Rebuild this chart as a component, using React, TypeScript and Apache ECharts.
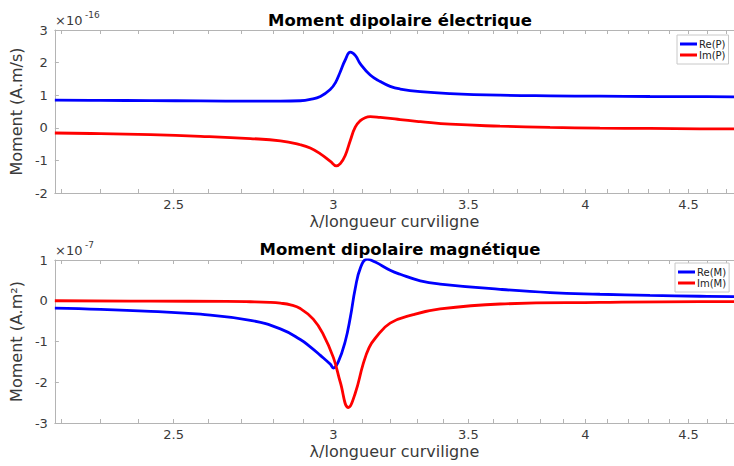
import React, { useEffect, useRef } from "react";
import * as echarts from "echarts";

// λ / longueur curviligne sample points and values (top: ×1e-16 A.m/s, bottom: ×1e-7 A.m²)
const lambdaReP = [2.183, 2.3, 2.435, 2.578, 2.729, 2.824, 2.889, 2.922, 2.956, 2.99, 3.007, 3.024, 3.041, 3.059, 3.076, 3.094, 3.129, 3.165, 3.201, 3.238, 3.313, 3.428, 3.629, 3.842, 4.067, 4.306, 4.559, 4.74];
const reP = [0.85, 0.84, 0.835, 0.825, 0.82, 0.82, 0.83, 0.87, 0.96, 1.18, 1.38, 1.72, 2.08, 2.32, 2.22, 1.96, 1.62, 1.42, 1.27, 1.19, 1.11, 1.05, 1.0, 0.98, 0.97, 0.96, 0.955, 0.95];

const lambdaImP = [2.183, 2.3, 2.435, 2.578, 2.729, 2.824, 2.889, 2.922, 2.956, 2.99, 3.01, 3.024, 3.041, 3.059, 3.076, 3.094, 3.111, 3.129, 3.165, 3.201, 3.238, 3.313, 3.428, 3.629, 3.842, 4.067, 4.306, 4.559, 4.74];
const imP = [-0.16, -0.18, -0.21, -0.26, -0.33, -0.4, -0.52, -0.62, -0.8, -1.03, -1.17, -1.1, -0.85, -0.38, 0.02, 0.22, 0.31, 0.34, 0.32, 0.29, 0.25, 0.19, 0.11, 0.05, 0.01, -0.01, -0.02, -0.03, -0.03];

const lambdaReM = [2.183, 2.3, 2.435, 2.578, 2.729, 2.824, 2.889, 2.922, 2.956, 2.99, 3.0, 3.017, 3.041, 3.059, 3.076, 3.094, 3.118, 3.147, 3.201, 3.238, 3.313, 3.389, 3.629, 3.842, 4.067, 4.306, 4.559, 4.74];
const reM = [-0.18, -0.21, -0.26, -0.33, -0.48, -0.69, -0.95, -1.13, -1.34, -1.56, -1.65, -1.5, -1.0, -0.4, 0.3, 0.8, 1.02, 0.95, 0.75, 0.65, 0.49, 0.41, 0.28, 0.2, 0.16, 0.13, 0.11, 0.1];

const lambdaImM = [2.183, 2.435, 2.656, 2.729, 2.79, 2.824, 2.857, 2.889, 2.932, 2.966, 3.0, 3.024, 3.052, 3.076, 3.104, 3.125, 3.147, 3.201, 3.287, 3.389, 3.629, 4.067, 4.559, 4.74];
const imM = [0.0, -0.01, -0.015, -0.025, -0.04, -0.06, -0.1, -0.19, -0.45, -0.83, -1.39, -2.0, -2.62, -2.27, -1.55, -1.15, -0.92, -0.55, -0.34, -0.2, -0.08, -0.04, -0.02, -0.02];

const tickLambdas = [2.2, 2.3, 2.4, 2.5, 2.6, 2.7, 2.8, 2.9, 3.0, 3.1, 3.2, 3.3, 3.4, 3.5, 3.6, 3.7, 3.8, 3.9, 4.0, 4.1, 4.2, 4.3, 4.4, 4.5, 4.6, 4.7];
const labelLambdas = [2.5, 3, 3.5, 4, 4.5];

const FONT = "DejaVu Sans";
const AXIS_COLOR = "#b4b4b4";
const LABEL_COLOR = "#3a3a3a";

const toPts = (xs: number[], ys: number[]) => xs.map((l, i) => [Math.log(l), ys[i]]);

export default function App() {
  const ref = useRef<HTMLDivElement>(null);
  useEffect(() => {
    if (!ref.current) return;
    const chart = echarts.init(ref.current, undefined, { renderer: "svg" });
    const xmin = Math.log(2.183);
    const xmax = Math.log(4.74);
    const tickVals = tickLambdas.map(Math.log);
    const labelVals = labelLambdas.map(Math.log);
    const fmt = (v: number) => String(Math.round(Math.exp(v) * 10) / 10);

    const bottomX = (gridIndex: number) => ({
      type: "value",
      gridIndex,
      min: xmin,
      max: xmax,
      position: "bottom",
      axisLine: { show: true, onZero: false, lineStyle: { color: AXIS_COLOR, width: 1 } },
      axisTick: { show: true, inside: true, length: 4, customValues: tickVals, lineStyle: { color: AXIS_COLOR } },
      axisLabel: {
        show: true,
        customValues: labelVals,
        formatter: fmt,
        color: LABEL_COLOR,
        fontFamily: FONT,
        fontSize: 13,
        margin: 5,
      },
      splitLine: { show: false },
      name: "λ/longueur curviligne",
      nameLocation: "middle",
      nameGap: 20,
      nameTextStyle: { color: LABEL_COLOR, fontFamily: FONT, fontSize: 16 },
    });
    const topX = (gridIndex: number) => ({
      type: "value",
      gridIndex,
      min: xmin,
      max: xmax,
      position: "top",
      axisLine: { show: true, onZero: false, lineStyle: { color: AXIS_COLOR, width: 1 } },
      axisTick: { show: true, inside: true, length: 4, customValues: tickVals, lineStyle: { color: AXIS_COLOR } },
      axisLabel: { show: false },
      splitLine: { show: false },
    });
    const yAx = (gridIndex: number, min: number, max: number, name: string) => ({
      type: "value",
      gridIndex,
      min,
      max,
      interval: 1,
      axisLine: { show: true, onZero: false, lineStyle: { color: AXIS_COLOR, width: 1 } },
      axisTick: { show: true, inside: true, length: 4, lineStyle: { color: AXIS_COLOR } },
      axisLabel: { color: LABEL_COLOR, fontFamily: FONT, fontSize: 13, margin: 7 },
      splitLine: { show: false },
      name,
      nameLocation: "middle",
      nameGap: 20,
      nameRotate: 90,
      nameTextStyle: { color: LABEL_COLOR, fontFamily: FONT, fontSize: 16 },
    });
    const lineSeries = (name: string, color: string, xAxisIndex: number, yAxisIndex: number, data: number[][]) => ({
      type: "line",
      name,
      xAxisIndex,
      yAxisIndex,
      data,
      showSymbol: false,
      smooth: 0.45,
      lineStyle: { color, width: 2.8 },
      itemStyle: { color },
      clip: true,
    });
    const legend = (data: string[], left: number, top: number) => ({
      data,
      left,
      top,
      orient: "vertical",
      icon: "rect",
      itemWidth: 17,
      itemHeight: 3,
      itemGap: 1,
      padding: [4, 3, 4, 3],
      backgroundColor: "#ffffff",
      borderColor: "#c8c8c8",
      borderWidth: 1,
      textStyle: { color: "#222", fontFamily: FONT, fontSize: 10, lineHeight: 10, padding: [0, 0, 0, -3] },
    });

    chart.setOption({
      animation: false,
      backgroundColor: "#ffffff",
      title: [
        { text: "Moment dipolaire électrique", left: 395, top: 7, textAlign: "center", textStyle: { fontFamily: FONT, fontSize: 16.5, fontWeight: "bold", color: "#000" } },
        { text: "Moment dipolaire magnétique", left: 395, top: 236, textAlign: "center", textStyle: { fontFamily: FONT, fontSize: 16.5, fontWeight: "bold", color: "#000" } },
      ],
      grid: [
        { left: 54, right: 0, top: 30, height: 163, containLabel: false },
        { left: 54, right: 0, top: 260, height: 163, containLabel: false },
      ],
      xAxis: [bottomX(0), topX(0), bottomX(1), topX(1)],
      yAxis: [yAx(0, -2, 3, "Moment (A.m/s)"), yAx(1, -3, 1, "Moment (A.m²)")],
      legend: [legend(["Re(P)", "Im(P)"], 677, 35), legend(["Re(M)", "Im(M)"], 675, 263)],
      graphic: [
        { type: "text", left: 55, top: 14, style: { text: "×10", fontFamily: FONT, fontSize: 13, fill: LABEL_COLOR } },
        { type: "text", left: 85, top: 10, style: { text: "-16", fontFamily: FONT, fontSize: 9, fill: LABEL_COLOR } },
        { type: "text", left: 55, top: 244, style: { text: "×10", fontFamily: FONT, fontSize: 13, fill: LABEL_COLOR } },
        { type: "text", left: 85, top: 240, style: { text: "-7", fontFamily: FONT, fontSize: 9, fill: LABEL_COLOR } },
      ],
      series: [
        lineSeries("Re(P)", "#0000ff", 0, 0, toPts(lambdaReP, reP)),
        lineSeries("Im(P)", "#ff0000", 0, 0, toPts(lambdaImP, imP)),
        lineSeries("Re(M)", "#0000ff", 2, 1, toPts(lambdaReM, reM)),
        lineSeries("Im(M)", "#ff0000", 2, 1, toPts(lambdaImM, imM)),
      ],
    });
    return () => chart.dispose();
  }, []);
  return <div ref={ref} style={{ width: 734, height: 466, position: "fixed", left: 0, top: 0 }} />;
}
